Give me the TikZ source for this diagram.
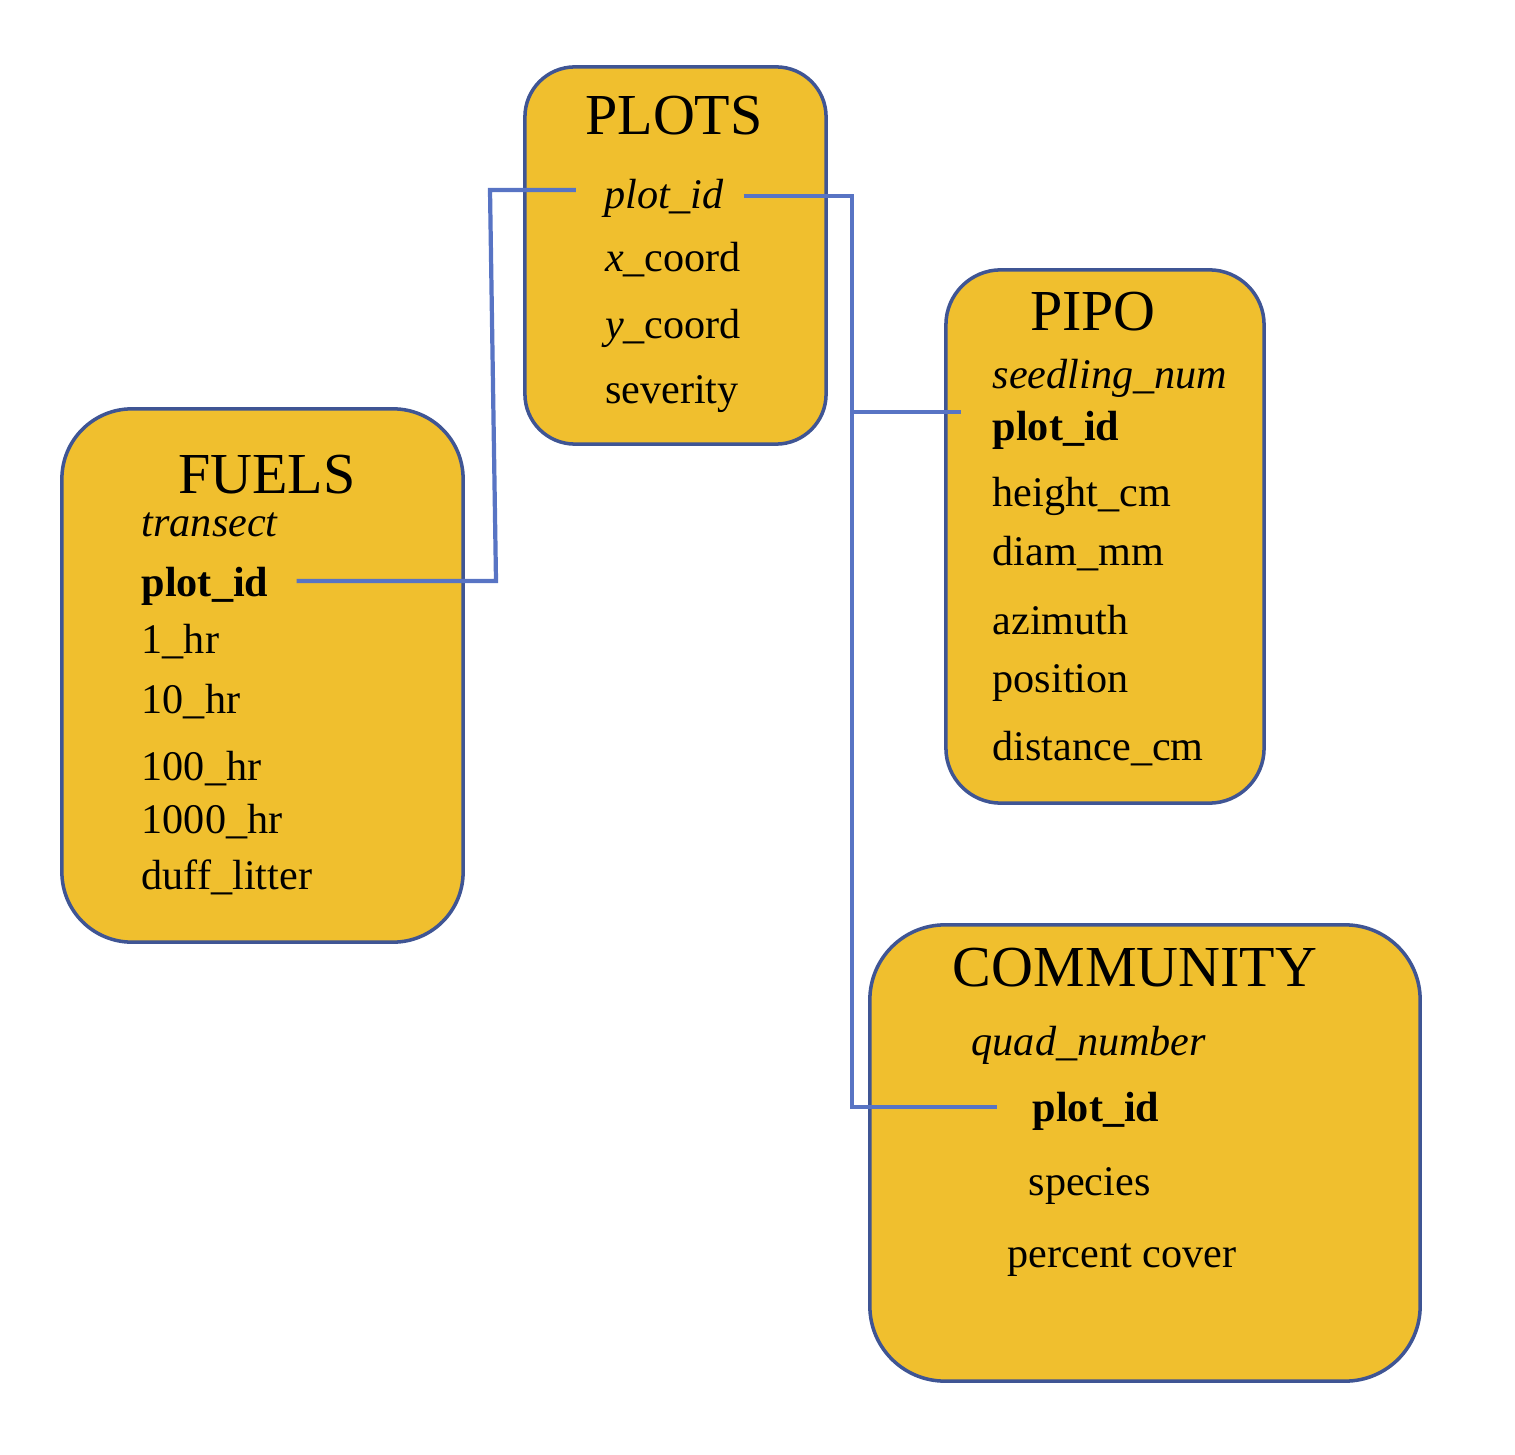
\documentclass[tikz,border=0pt]{standalone}
\usepackage{fontspec}
\setmainfont{Liberation Serif}
\usetikzlibrary{calc}

\definecolor{tablefill}{HTML}{F0BF2E}
\definecolor{tableline}{HTML}{3F5594}
\definecolor{linkline}{HTML}{5874C4}

\tikzset{
    tablebox/.style={draw=tableline, fill=tablefill, line width=1pt, inner sep=0pt},
    tabletitle/.style={anchor=base, inner sep=0pt, font=\fontsize{16.5}{20}\selectfont},
    field/.style={anchor=base west, inner sep=0pt, font=\fontsize{12}{14}\selectfont},
    link/.style={draw=linkline, line width=1.2pt},
}

\begin{document}
\begin{tikzpicture}[x=0.01cm, y=-0.01cm]
        \useasboundingbox (0,0) rectangle (1515,1455);

        % Desenha as tabelas
        \node[tablebox, minimum width=3.01cm, minimum height=3.77cm, rounded corners=5mm] (plots) at (675.5,255.5) {};
        \node[tablebox, minimum width=4.01cm, minimum height=5.33cm, rounded corners=7mm] (fuels) at (262.5,675.5) {};
        \node[tablebox, minimum width=3.18cm, minimum height=5.33cm, rounded corners=5.5mm] (pipo) at (1105,536.5) {};
        \node[tablebox, minimum width=5.50cm, minimum height=4.56cm, rounded corners=7.5mm] (community) at (1145,1153) {};

        % Titulos
        \node[tabletitle] (plotstitle) at (674,135) {PLOTS};
        \node[tabletitle] (fuelstitle) at (267,494) {FUELS};
        \node[tabletitle] (pipotitle) at (1093,331) {PIPO};
        \node[tabletitle] (commtitle) at (1135,986) {COMMUNITY};

        % Campos de PLOTS
        \node[field, anchor=base] (plotsid) at (664,209) {\textit{plot\_id}};
        \node[field, anchor=base] (plotsx) at (673,272) {\textit{x}\_coord};
        \node[field, anchor=base] (plotsy) at (673,339) {\textit{y}\_coord};
        \node[field, anchor=base] (plotssev) at (672,404) {severity};

        % Campos de FUELS
        \node[field] (fuelstran) at (141,537) {\textit{transect}};
        \node[field] (fuelsid) at (141,596) {\textbf{plot\_id}};
        \node[field] (fuelsone) at (141,653) {1\_hr};
        \node[field] (fuelsten) at (141,713) {10\_hr};
        \node[field] (fuelshund) at (141,780) {100\_hr};
        \node[field] (fuelsthou) at (141,833) {1000\_hr};
        \node[field] (fuelsduff) at (141,889) {duff\_litter};

        % Campos de PIPO
        \node[field] (piposeed) at (992,389) {\textit{seedling\_num}};
        \node[field] (pipoid) at (992,441) {\textbf{plot\_id}};
        \node[field] (pipoheight) at (992,506) {height\_cm};
        \node[field] (pipodiam) at (992,565) {diam\_mm};
        \node[field] (pipoazim) at (992,634) {azimuth};
        \node[field] (pipopos) at (992,692) {position};
        \node[field] (pipodist) at (992,760) {distance\_cm};

        % Campos de COMMUNITY
        \node[field] (commquad) at (971,1055) {\textit{quad\_number}};
        \node[field] (commid) at (1032,1121) {\textbf{plot\_id}};
        \node[field] (commspec) at (1028,1195) {species};
        \node[field] (commcover) at (1007,1267) {percent cover};

        % Ligacoes entre as tabelas
        \coordinate (ltop) at (490,190);
        \coordinate (llow) at (496,581);
        \coordinate (rtop) at (852,196);
        \coordinate (rmid) at (852,412);
        \coordinate (rlow) at (852,1107);

        \draw[link] ($(fuelsid.east |- llow)+(27.5,0)$) -- (llow) -- (ltop) -- ($(plotsid.west |- ltop)+(-27.5,0)$);
        \draw[link] ($(plotsid.east |- rtop)+(19,0)$) -- (rtop) -- (rlow) -- ($(commid.west |- rlow)+(-35,0)$);
        \draw[link] (rmid) -- ($(pipoid.west |- rmid)+(-31,0)$);
\end{tikzpicture}
\end{document}
